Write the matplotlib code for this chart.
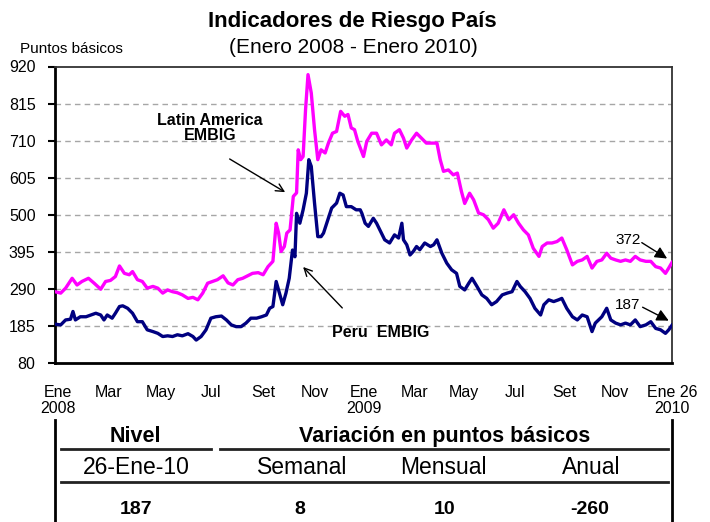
import matplotlib
matplotlib.use("Agg")
import matplotlib.pyplot as plt
from matplotlib.lines import Line2D

plt.rcParams['font.family'] = ['Liberation Sans', 'DejaVu Sans']

# dias desde 1-Ene-2008
dias_latam = [0, 7, 13, 21, 27, 33, 41, 48, 56, 62, 68, 74, 79, 85, 91, 95, 101, 107, 113, 120,
              126, 132, 138, 144, 150, 156, 163, 169, 175, 181, 187, 193, 199, 206, 212, 218, 224, 230, 236, 242,
              249, 255, 261, 267, 271, 274, 277, 281, 284, 288, 292, 296, 298, 301, 304, 307, 310, 314, 318, 322,
              326, 331, 335, 340, 345, 350, 355, 359, 363, 367, 371,
              378, 382, 388, 394, 400, 406, 412, 416, 422, 427, 431, 437, 443, 449, 455, 462, 468, 472, 476, 482,
              488, 493, 498, 502, 508, 513, 519, 525, 531, 537, 543, 550, 556, 562, 568, 574, 580, 586, 593, 597,
              603, 609, 615, 621, 627, 634, 640, 646, 652, 658, 664, 670, 676, 681, 687, 693, 699, 705, 711, 717,
              724, 730, 736, 742, 748, 752, 756]
latam = [282, 278, 292, 320, 301, 311, 320, 306, 289, 311, 314, 325, 355, 334, 330, 339, 316, 311, 292, 297,
         292, 278, 287, 282, 279, 273, 263, 266, 259, 278, 306, 311, 316, 327, 307, 301, 316, 320, 327, 334,
         336, 330, 353, 368, 476, 448, 396, 410, 448, 457, 552, 562, 684, 656, 665, 798, 897, 845, 741, 656,
         684, 675, 703, 731, 736, 793, 779, 784, 746, 741, 708,
         665, 708, 731, 731, 698, 712, 698, 731, 741, 717, 689, 712, 731, 717, 703, 703, 703, 656, 623, 627,
         613, 618, 566, 532, 561, 542, 505, 500, 486, 462, 476, 514, 486, 500, 476, 457, 443, 405, 382, 410,
         420, 420, 424, 434, 401, 358, 368, 372, 382, 349, 368, 372, 391, 377, 372, 368, 372, 368, 382, 372,
         368, 368, 353, 349, 334, 349, 365]

dias_peru = [0, 7, 13, 19, 22, 25, 31, 38, 44, 50, 56, 60, 64, 70, 74, 79, 83, 89, 95, 101,
             107, 113, 120, 126, 132, 138, 144, 150, 156, 163, 169, 173, 179, 185, 191, 197, 204, 210, 216, 222,
             228, 234, 240, 247, 253, 259, 263, 267, 271, 275, 279, 283, 287, 291, 294, 296, 300, 304, 308, 311,
             314, 318, 322, 326, 329, 333, 339, 345, 349, 353, 357, 363, 369,
             374, 376, 380, 384, 390, 394, 398, 404, 410, 416, 421, 425, 427, 431, 435, 439, 443, 447, 453, 460,
             464, 468, 474, 480, 486, 492, 496, 502, 507, 511, 517, 523, 529, 535, 541, 548, 554, 560, 566, 570,
             576, 582, 588, 595, 599, 605, 611, 617, 621, 627, 634, 640, 646, 652, 658, 662, 666, 670, 676, 681,
             687, 693, 699, 705, 711, 717, 724, 730, 736, 742, 748, 752, 756]
peru = [190, 188, 202, 204, 226, 202, 211, 211, 216, 221, 216, 202, 216, 207, 221, 240, 242, 235, 221, 197,
        197, 174, 169, 164, 155, 157, 155, 160, 157, 163, 155, 145, 155, 174, 207, 211, 213, 202, 188, 183,
        183, 193, 207, 207, 211, 216, 235, 240, 311, 278, 245, 278, 320, 400, 381, 504, 476, 514, 561, 656,
        637, 533, 438, 438, 448, 476, 519, 533, 561, 556, 523, 523, 514,
        514, 504, 476, 467, 490, 476, 457, 429, 420, 443, 434, 476, 429, 415, 386, 396, 410, 401, 420, 410,
        415, 429, 391, 363, 344, 334, 297, 287, 306, 320, 297, 273, 263, 245, 254, 273, 278, 282, 311, 297,
        282, 263, 235, 216, 245, 259, 254, 259, 263, 235, 211, 202, 216, 211, 169, 193, 202, 211, 235, 202,
        193, 188, 193, 188, 202, 183, 188, 197, 178, 174, 164, 174, 187]

y_ticks = [80, 185, 290, 395, 500, 605, 710, 815, 920]
x_tick_dias = [4, 66, 130, 191, 255, 318, 379, 440, 501, 563, 624, 686, 756]
x_tick_labels = ['Ene\n2008', 'Mar', 'May', 'Jul', 'Set', 'Nov', 'Ene\n2009', 'Mar', 'May', 'Jul',
                 'Set', 'Nov', 'Ene 26\n2010']

tabla_cab = ['Nivel', 'Variación en puntos básicos']
tabla_sub = ['26-Ene-10', 'Semanal', 'Mensual', 'Anual']
tabla_val = ['187', '8', '10', '-260']

fig = plt.figure(figsize=(7.1, 5.22), dpi=100)
ax = fig.add_axes([55 / 710, 1 - 363 / 522, 617 / 710, 296.5 / 522])

ax.plot(dias_latam, latam, color='#FF00FF', lw=2.4, zorder=3)
ax.plot(dias_peru, peru, color='#000080', lw=2.4, zorder=3)

ax.set_xlim(0, 756)
ax.set_ylim(80, 920)
ax.set_yticks(y_ticks)
ax.tick_params(axis='y', labelsize=11.5, length=5, width=1.5, pad=9, direction='out')
ax.set_xticks(x_tick_dias)
ax.set_xticklabels(x_tick_labels, fontsize=11.5, linespacing=1.05)
ax.tick_params(axis='x', length=0, pad=16)
for g in y_ticks[1:-1]:
    ax.axhline(g, color='#A6A6A6', lw=1, ls=(0, (4, 3)), zorder=1)

for s in ['left', 'bottom']:
    ax.spines[s].set_linewidth(2)
    ax.spines[s].set_color('black')
for s in ['top', 'right']:
    ax.spines[s].set_linewidth(1.3)
    ax.spines[s].set_color('#333333')

flecha = dict(arrowstyle='->', color='black', lw=1, mutation_scale=14, shrinkA=0, shrinkB=0)
flecha_llena = dict(arrowstyle='-|>', color='black', lw=1, mutation_scale=18, shrinkA=0, shrinkB=0)

ax.text(190, 746, 'Latin America\nEMBIG', ha='center', va='center', fontsize=11.5,
        fontweight='bold', linespacing=1.0)
ax.annotate('', xy=(282, 564), xytext=(214, 658), arrowprops=flecha)
ax.text(399, 165, 'Peru  EMBIG', ha='center', va='center', fontsize=11.5, fontweight='bold')
ax.annotate('', xy=(304, 352), xytext=(352, 236), arrowprops=flecha)
ax.text(702, 428, '372', ha='center', va='center', fontsize=11)
ax.annotate('', xy=(750, 376), xytext=(719, 421), arrowprops=flecha_llena)
ax.text(702, 244, '187', ha='center', va='center', fontsize=11)
ax.annotate('', xy=(752, 200), xytext=(720, 238), arrowprops=flecha_llena)

fig.text(0.496, 1 - 27 / 522, 'Indicadores de Riesgo País', ha='center', va='baseline',
         fontsize=16, fontweight='bold')
fig.text(0.498, 1 - 53 / 522, '(Enero 2008 - Enero 2010)', ha='center', va='baseline', fontsize=15)
fig.text(20 / 710, 1 - 53 / 522, 'Puntos básicos', ha='left', va='baseline', fontsize=11)

# tabla inferior
tab = fig.add_axes([55 / 710, 0, 617 / 710, 102 / 522])
tab.set_xlim(0, 1)
tab.set_ylim(0, 1)
tab.set_xticks([])
tab.set_yticks([])
for s in ['top', 'bottom']:
    tab.spines[s].set_visible(False)
for s in ['left', 'right']:
    tab.spines[s].set_linewidth(2)
    tab.spines[s].set_color('black')
tab.patch.set_visible(False)

tab.add_line(Line2D([0.01, 0.253], [0.716, 0.716], color='#222222', lw=2))
tab.add_line(Line2D([0.267, 0.994], [0.716, 0.716], color='#222222', lw=2))
tab.add_line(Line2D([0.01, 0.994], [0.392, 0.392], color='#222222', lw=2))

tab.text(0.131, 0.843, tabla_cab[0], ha='center', va='center', fontsize=15.5, fontweight='bold')
tab.text(0.632, 0.843, tabla_cab[1], ha='center', va='center', fontsize=15.5, fontweight='bold')
for xc, t in zip([0.131, 0.40, 0.629, 0.869], tabla_sub):
    tab.text(xc, 0.53, t, ha='center', va='center', fontsize=16.5)
for xc, t in zip([0.131, 0.397, 0.632, 0.867], tabla_val):
    tab.text(xc, 0.118, t, ha='center', va='center', fontsize=14, fontweight='bold')

fig.savefig('out.png', dpi=100)
